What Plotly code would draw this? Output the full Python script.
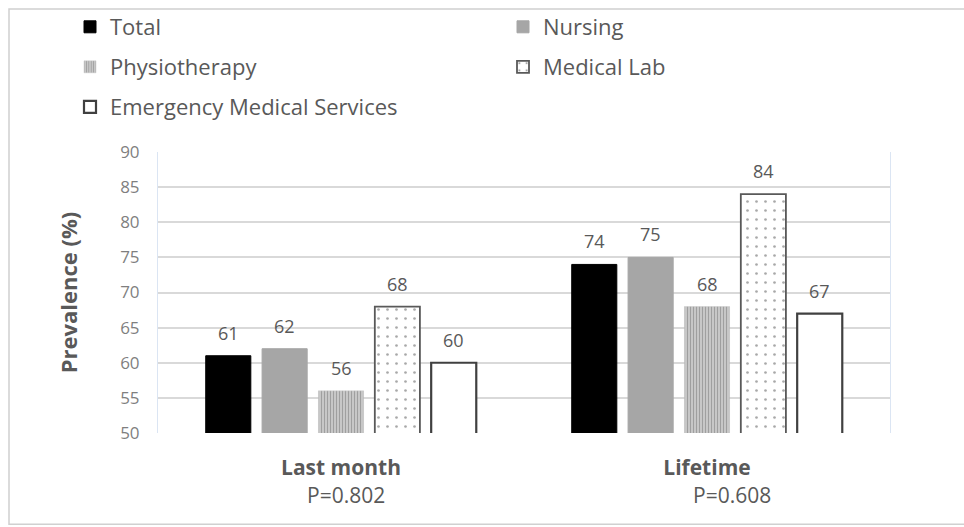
import plotly.graph_objects as go

categories = ["Last month", "Lifetime"]
p_values = ["P=0.802", "P=0.608"]
series_names = ["Total", "Nursing", "Physiotherapy", "Medical Lab", "Emergency Medical Services"]
total = [61, 74]
nursing = [62, 75]
physio = [56, 68]
medlab = [68, 84]
ems = [60, 67]
y_ticks = [50, 55, 60, 65, 70, 75, 80, 85, 90]

series_values = [total, nursing, physio, medlab, ems]

FONT = "Open Sans"
TXT = "#595959"
BARGAP = 0.23

styles = [
    dict(color="#000000", line=dict(color="#000000", width=1)),
    dict(color="#a6a6a6", line=dict(color="#a6a6a6", width=1)),
    dict(color="#ffffff", line=dict(color="#c8c8c8", width=0.5),
         pattern=dict(shape="|", size=3, solidity=0.5, fgcolor="#6a6a6a", bgcolor="#d4d4d4")),
    dict(color="#ffffff", line=dict(color="#595959", width=1.8),
         pattern=dict(shape=".", size=9, solidity=0.07, fgcolor="#505050", bgcolor="#ffffff")),
    dict(color="#ffffff", line=dict(color="#404040", width=2.2)),
]
legend_ids = ["legend", "legend2", "legend3", "legend4", "legend5"]
# legend grid: (column, row)
legend_cells = [(0, 0), (1, 0), (0, 1), (1, 1), (0, 2)]
col_x = [70, 503]
row_y = [27, 67, 107]

fig = go.Figure()
for name, vals, st, lg in zip(series_names, series_values, styles, legend_ids):
    fig.add_trace(go.Bar(
        x=categories, y=vals, name=name, marker=st, legend=lg,
        hoverinfo="skip", showlegend=True,
    ))

# data labels (positions derived from the grouped-bar layout)
n = len(series_names)
slot = (1 - BARGAP) / n
annotations = []
for i, vals in enumerate(series_values):
    off = (i - (n - 1) / 2) * slot
    for ci, v in enumerate(vals):
        annotations.append(dict(
            x=ci + off, y=v, xref="x", yref="y", text=str(v), showarrow=False,
            yanchor="bottom", yshift=9,
            font=dict(family=FONT, size=18, color=TXT),
        ))

# P-values below category labels
p_shifts = [5, 25]
for ci, (pv, sh) in enumerate(zip(p_values, p_shifts)):
    annotations.append(dict(
        x=ci, y=-0.22, xref="x", yref="paper", text=pv, showarrow=False,
        xshift=sh, yanchor="middle",
        font=dict(family=FONT, size=21, color=TXT),
    ))

legend_common = dict(
    orientation="h", xref="container", yref="container",
    xanchor="left", yanchor="middle", visible=True,
    font=dict(family=FONT, size=22, color=TXT),
    bgcolor="rgba(0,0,0,0)", itemclick=False, itemdoubleclick=False,
)
legend_layout = {}
for lg, (c, r) in zip(legend_ids, legend_cells):
    legend_layout[lg] = dict(legend_common, x=col_x[c] / 964, y=1 - row_y[r] / 527)

fig.update_layout(
    width=964, height=527,
    showlegend=True,
    margin=dict(l=158, r=74, t=150, b=94),
    paper_bgcolor="#ffffff", plot_bgcolor="#ffffff",
    barmode="group", bargap=BARGAP, bargroupgap=0.2,
    font=dict(family=FONT, color=TXT),
    annotations=annotations,
    xaxis=dict(
        type="category", showgrid=False, showline=False, zeroline=False,
        tickmode="array", tickvals=categories,
        ticktext=[f"<b>{c}</b>" for c in categories],
        tickfont=dict(family=FONT, size=21, color=TXT),
        ticks="", ticklabelstandoff=20,
    ),
    yaxis=dict(
        range=[50, 90], tickmode="array", tickvals=y_ticks,
        showgrid=True, gridcolor="#d9d9d9", gridwidth=1.5,
        showline=True, linecolor="#dbe5f3", linewidth=1, mirror=True,
        zeroline=False, ticks="", ticklabelstandoff=14,
        tickfont=dict(family=FONT, size=17, color="#7f7f7f"),
        title=dict(text="<b>Prevalence (%)</b>", standoff=36,
                   font=dict(family=FONT, size=22, color=TXT)),
    ),
    shapes=[
        dict(type="rect", xref="paper", yref="paper",
             x0=(9 - 158) / 732, x1=1.2, y0=(433 - 525) / 283, y1=(433 - 6) / 283,
             line=dict(color="#d0d0d0", width=1.5), fillcolor="rgba(0,0,0,0)",
             layer="below"),
    ],
)
fig.update_layout(**legend_layout)

fig.write_html("out.html")
